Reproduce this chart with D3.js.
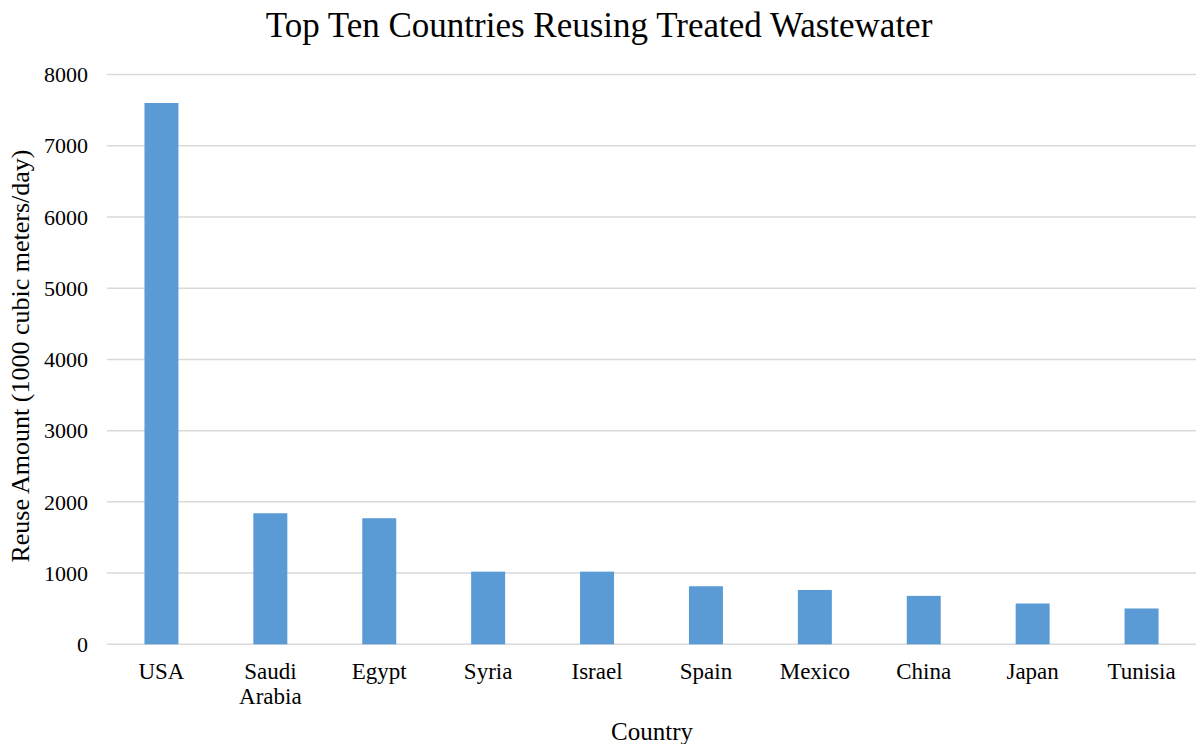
<!DOCTYPE html>
<html><head><meta charset="utf-8">
<script src="https://cdn.jsdelivr.net/npm/d3@7"></script>
<style>body{margin:0;background:#fff}svg{display:block}text{font-family:"Liberation Serif","Times New Roman",serif;fill:#000}</style>
</head><body><svg id="c" width="1200" height="744"></svg>
<script>
const countries = ["USA","Saudi Arabia","Egypt","Syria","Israel","Spain","Mexico","China","Japan","Tunisia"];
const tickLabelLines = [["USA"],["Saudi","Arabia"],["Egypt"],["Syria"],["Israel"],["Spain"],["Mexico"],["China"],["Japan"],["Tunisia"]];
const reuseAmount = [7600,1840,1770,1020,1020,815,763,680,573,503];
const yTicks = [0,1000,2000,3000,4000,5000,6000,7000,8000];

const svg = d3.select("#c");
const m = {l:107, r:1196, t:74.5, b:644.3};
const x = d3.scaleBand().domain(countries).range([m.l, m.r]).paddingInner(0.688).paddingOuter(0.344);
const y = d3.scaleLinear().domain([0,8000]).range([m.b, m.t]);

svg.append("g").selectAll("line").data(yTicks).join("line")
  .attr("x1", m.l).attr("x2", m.r).attr("y1", d=>y(d)).attr("y2", d=>y(d))
  .attr("stroke", "#d9d9d9").attr("stroke-width", 1.5);

svg.append("g").selectAll("text").data(yTicks).join("text")
  .attr("x", 88).attr("y", d=>y(d)).attr("dy","0.35em").attr("text-anchor","end")
  .attr("font-size", 22).attr("fill","#404040").text(d=>d);

svg.append("g").selectAll("rect").data(reuseAmount).join("rect")
  .attr("x", (d,i)=>x(countries[i])).attr("width", x.bandwidth())
  .attr("y", d=>y(d)).attr("height", d=>y(0)-y(d))
  .attr("fill", "#5b9bd5");

const xl = svg.append("g").selectAll("text").data(countries).join("text")
  .attr("x", d=>x(d)+x.bandwidth()/2).attr("y", 679).attr("text-anchor","middle")
  .attr("font-size", 23).attr("fill","#404040");
xl.each(function(d,i){
  const t = d3.select(this);
  tickLabelLines[i].forEach((ln,j)=>{
    t.append("tspan").attr("x", x(d)+x.bandwidth()/2).attr("dy", j===0?0:"1.08em").text(ln);
  });
});

svg.append("text").attr("x", 599).attr("y", 37).attr("text-anchor","middle")
  .attr("font-size", 35).text("Top Ten Countries Reusing Treated Wastewater");
svg.append("text").attr("x", 652).attr("y", 740).attr("text-anchor","middle")
  .attr("font-size", 25).text("Country");
svg.append("text").attr("transform","translate(29,356) rotate(-90)").attr("text-anchor","middle")
  .attr("font-size", 26).text("Reuse Amount (1000 cubic meters/day)");
</script></body></html>
